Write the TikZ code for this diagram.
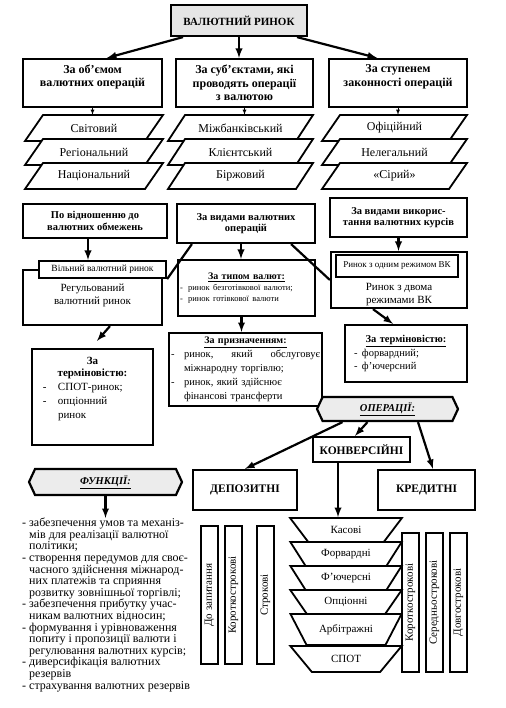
\documentclass[tikz,border=0pt]{standalone}
\usepackage{fontspec}
\setmainfont{Liberation Serif}
\usetikzlibrary{shapes.geometric,shapes.symbols}
\setlength\parindent{0pt}
\newcommand\dashitem[1]{\makebox[#1][l]{-}}
\tikzset{
  box/.style = {draw, line width=2.2pt, fill=white, align=center, inner sep=2pt},
  titletxt/.style = {font=\fontsize{11}{13}\selectfont\bfseries},
  headtxt/.style = {font=\fontsize{12}{13.5}\selectfont\bfseries},
  opstxt/.style = {font=\fontsize{11.5}{13.5}\selectfont\bfseries},
  subtxt/.style = {font=\fontsize{10.5}{11.5}\selectfont\bfseries},
  plg/.style = {draw, line width=1.8pt, fill=white},
  plgtxt/.style = {minimum height=26, inner sep=0pt, font=\fontsize{12}{14}\selectfont},
  trap/.style = {draw, line width=1.8pt, fill=white, trapezium, shape border rotate=180,
    trapezium stretches=true, minimum width=112, inner sep=1pt, font=\fontsize{11}{13}\selectfont},
  vbox/.style = {draw, line width=1.8pt, rotate=90, minimum height=17, inner sep=0pt,
    font=\fontsize{11}{13}\selectfont},
  hexa/.style = {draw, line width=2.2pt, fill=gray!15, signal, signal to=west and east,
    signal pointer angle=130, inner sep=1pt, font=\fontsize{10.5}{12}\selectfont\bfseries\itshape},
  arr/.style = {-latex, line width=2.2pt},
  thinarr/.style = {-latex, line width=0.8pt},
}

\begin{document}
\begin{tikzpicture}[x=1pt, y=-1pt]
  \useasboundingbox (0,0) rectangle (505,708);
  % top level
  \node[box, titletxt, fill=gray!20, minimum width=136, minimum height=31] (rynok) at (239,20.5) {ВАЛЮТНИЙ РИНОК};
  \node[box, headtxt, minimum width=139, minimum height=48] (obsyag) at (92.5,83) {За об’ємом\\валютних операцій\rule[-15pt]{0pt}{15pt}};
  \node[box, headtxt, minimum width=137, minimum height=48] (subj) at (244.5,83) {За суб’єктами, які\\проводять операції\\з валютою};
  \node[box, headtxt, minimum width=138, minimum height=48] (zakon) at (398,83) {За ступенем\\законності операцій\rule[-15pt]{0pt}{15pt}};
  \draw[arr] ([xshift=-56]rynok.south) -- ([xshift=14.5]obsyag.north);
  \draw[arr] (rynok.south) -- (rynok.south |- subj.north);
  \draw[arr] ([xshift=58]rynok.south) -- ([xshift=-21]zakon.north);

  % parallelograms
  \draw[plg] (25,141) -- (43,115) -- (163,115) -- (145,141) -- cycle;
  \node[plgtxt] (svit) at (94,128) {Світовий};
  \draw[plg] (25,165) -- (43,139) -- (163,139) -- (145,165) -- cycle;
  \node[plgtxt] (region) at (94,152) {Регіональний};
  \draw[plg] (25,189) -- (43,163) -- (163,163) -- (145,189) -- cycle;
  \node[plgtxt] (nats) at (94,176) {Національний};
  \draw[plg] (168,141) -- (185,115) -- (313,115) -- (296,141) -- cycle;
  \node[plgtxt] (mizh) at (240.5,128) {Міжбанківський};
  \draw[plg] (168,165) -- (185,139) -- (313,139) -- (296,165) -- cycle;
  \node[plgtxt] (klient) at (240.5,152) {Клієнтський};
  \draw[plg] (168,189) -- (185,163) -- (313,163) -- (296,189) -- cycle;
  \node[plgtxt] (birzh) at (240.5,176) {Біржовий};
  \draw[plg] (322,141) -- (340,115) -- (467,115) -- (449,141) -- cycle;
  \node[plgtxt] (ofic) at (394.5,128) {Офіційний};
  \draw[plg] (322,165) -- (340,139) -- (467,139) -- (449,165) -- cycle;
  \node[plgtxt] (neleg) at (394.5,152) {Нелегальний};
  \draw[plg] (322,189) -- (340,163) -- (467,163) -- (449,189) -- cycle;
  \node[plgtxt] (siryi) at (394.5,176) {«Сірий»};
  \draw[thinarr] (obsyag.south) -- (obsyag.south |- svit.north);
  \draw[thinarr] (subj.south) -- (subj.south |- mizh.north);
  \draw[thinarr] (zakon.south) -- (zakon.south |- ofic.north);

  % second level
  \node[box, subtxt, minimum width=144, minimum height=34] (obmezh) at (95,221) {По відношенню до\\валютних обмежень};
  \node[box, subtxt, minimum width=138, minimum height=39] (vydy) at (246,223.5) {За видами валютних\\операцій};
  \node[box, subtxt, minimum width=137, minimum height=39] (kursy) at (398.5,217.5) {За видами викорис-\\тання валютних курсів};

  \node[box, minimum width=139, minimum height=55, font=\fontsize{11}{13.5}\selectfont] (regul) at (92.5,297.5) {Регульований\\валютний ринок\rule[-7pt]{0pt}{7pt}};
  \node[box, minimum width=127, minimum height=17, font=\fontsize{9.5}{10}\selectfont] (vilny) at (102.5,269.5) {Вільний валютний ринок};

  \node[box, text width=133, align=left, minimum height=56] (valyut) at (246.5,288) {%
    {\fontsize{10}{12}\selectfont\bfseries\centering\underline{За типом валют:}\par}
    {\fontsize{8.5}{11}\selectfont\dashitem{8pt}ринок безготівкової валюти;\par\dashitem{8pt}ринок готівкової валюти\par}};

  \node[box, minimum width=136, minimum height=56, font=\fontsize{11}{13.5}\selectfont] (dvoma) at (399,280) {\rule{0pt}{36pt}Ринок з двома\\режимами ВК};
  \node[box, minimum width=122, minimum height=22, font=\fontsize{9}{10}\selectfont] (odnym) at (397,266) {Ринок з одним режимом ВК};

  \node[box, text width=117, align=left, minimum height=96] (term1) at (92.5,397) {%
    {\fontsize{11}{12.5}\selectfont\bfseries\centering За\\терміновістю:\par}
    {\fontsize{11}{14}\selectfont\hspace*{9pt}\dashitem{15pt}СПОТ-ринок;\par
      \hspace*{9pt}\dashitem{15pt}опціонний\par\hspace*{24pt}ринок\rule[-18pt]{0pt}{18pt}\par}};

  \node[box, text width=149, align=left, minimum height=73] (pryzn) at (245.5,369.5) {%
    {\fontsize{10}{12}\selectfont\bfseries\centering\underline{За призначенням:}\par}
    {\fontsize{10.5}{14}\selectfont\dashitem{13pt}ринок,\hfill який\hfill обслуговує\par
      \hspace*{13pt}міжнародну торгівлю;\par
      \dashitem{13pt}ринок, який здійснює\par
      \hspace*{13pt}фінансові трансферти\par}};

  \node[box, text width=118, align=left, minimum height=57] (term2) at (406,353.5) {%
    {\fontsize{10.5}{12.5}\selectfont\bfseries\centering\underline{За терміновістю:}\par}
    {\fontsize{10.5}{13.5}\selectfont\hspace*{7pt}\dashitem{8pt}форвардний;\par\hspace*{7pt}\dashitem{8pt}ф’ючерсний\par}};

  \draw[arr] ([xshift=-7]obmezh.south) -- ([xshift=-7]obmezh.south |- vilny.north);
  \draw[arr] ([xshift=-5]vydy.south) -- ([xshift=-5]vydy.south |- valyut.north);
  \draw[line width=2.2pt] ([xshift=16]vydy.south west) -- (vilny.south east);
  \draw[line width=2.2pt] ([xshift=-25]vydy.south east) -- (dvoma.west);
  \draw[arr] (kursy.south) -- (kursy.south |- dvoma.north);
  \draw[arr] ([xshift=17.5]regul.south) -- ([shift={(4.5,-7)}]term1.north);
  \draw[arr] ([xshift=-5]valyut.south) -- ([xshift=-5]valyut.south |- pryzn.north);
  \draw[arr] ([xshift=-26]dvoma.south) -- ([xshift=-13]term2.north);

  % operations
  \node[hexa, minimum width=141, minimum height=24] (oper) at (387.5,409) {\underline{ОПЕРАЦІЇ:}};
  \node[box, opstxt, minimum width=104, minimum height=40] (depoz) at (245,490) {ДЕПОЗИТНІ};
  \node[box, opstxt, minimum width=97, minimum height=25] (konv) at (361.5,449.5) {КОНВЕРСІЙНІ};
  \node[box, opstxt, minimum width=97, minimum height=40] (kred) at (426.5,490) {КРЕДИТНІ};
  \draw[arr] ([xshift=-45]oper.south) -- (depoz.north);
  \draw[arr] ([xshift=-20]oper.south) -- ([xshift=-6.5]konv.north);
  \draw[arr] ([xshift=30.5]oper.south) -- ([xshift=6.5]kred.north);

  \node[trap, trapezium angle=50, minimum height=24] (kasovi) at (346,530) {Касові};
  \node[trap, trapezium angle=50, minimum height=24] (forv) at (346,554) {Форвардні};
  \node[trap, trapezium angle=50, minimum height=24] (fyuch) at (346,578) {Ф’ючерсні};
  \node[trap, trapezium angle=50, minimum height=24] (opts) at (346,602) {Опціонні};
  \node[trap, trapezium angle=47, minimum height=31] (arbit) at (346,629.5) {Арбітражні};
  \node[trap, trapezium angle=43, minimum height=26] (spot) at (346,659) {СПОТ};
  \draw[arr] ([xshift=-23.5]konv.south) -- ([xshift=-23.5]konv.south |- kasovi.north);

  \node[vbox, minimum width=138] (dozap) at (209.5,595) {До запитання};
  \node[vbox, minimum width=138] (korotd) at (233.5,595) {Короткострокові};
  \node[vbox, minimum width=138] (strok) at (265.5,595) {Строкові};
  \node[vbox, minimum width=139] (korotk) at (410.5,602.5) {Короткострокові};
  \node[vbox, minimum width=139] (sered) at (434.5,602.5) {Середньострокові};
  \node[vbox, minimum width=139] (dovg) at (458.5,602.5) {Довгострокові};

  % functions
  \node[hexa, minimum width=153, minimum height=26] (funk) at (105.5,482) {\underline{ФУНКЦІЇ:}};
  \node[anchor=north west, align=left, inner sep=0pt, font=\fontsize{12}{11.6}\selectfont] (funklist) at (22,518) {%
    \dashitem{7pt}забезпечення умов та механіз-\\
    \hspace*{7pt}мів для реалізації валютної\\
    \hspace*{7pt}політики;\\
    \dashitem{7pt}створення передумов для своє-\\
    \hspace*{7pt}часного здійснення міжнарод-\\
    \hspace*{7pt}них платежів та сприяння\\
    \hspace*{7pt}розвитку зовнішньої торгівлі;\\
    \dashitem{7pt}забезпечення прибутку учас-\\
    \hspace*{7pt}никам валютних відносин;\\
    \dashitem{7pt}формування і урівноваження\\
    \hspace*{7pt}попиту і пропозиції валюти і\\
    \hspace*{7pt}регулювання валютних курсів;\\
    \dashitem{7pt}диверсифікація валютних\\
    \hspace*{7pt}резервів\\
    \dashitem{7pt}страхування валютних резервів};
  \draw[arr] (funk.south) -- (funk.south |- funklist.north);
\end{tikzpicture}
\end{document}
